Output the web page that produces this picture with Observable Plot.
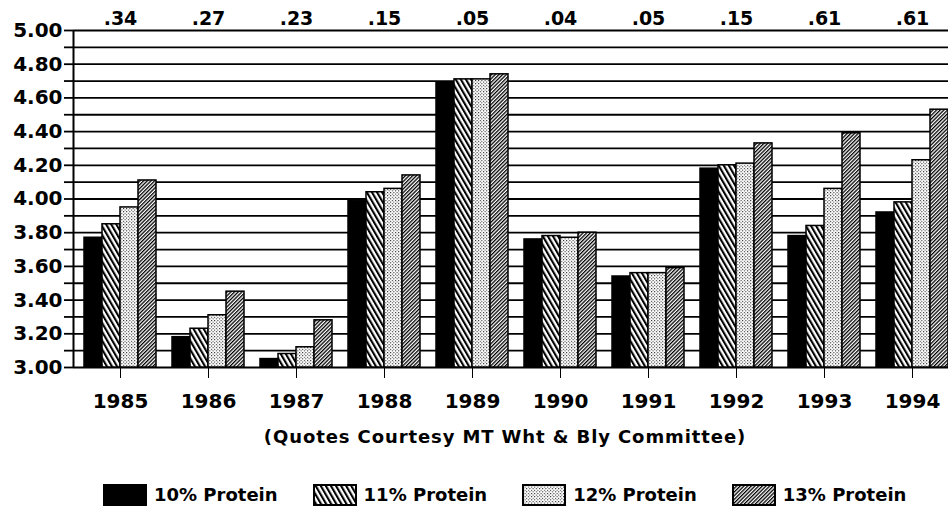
<!DOCTYPE html>
<html>
<head>
<meta charset="utf-8">
<script src="https://cdn.jsdelivr.net/npm/d3@7"></script>
<script src="https://cdn.jsdelivr.net/npm/@observablehq/plot@0.6"></script>
<style>
  body { margin: 0; background: #fff; }
  #chart { width: 948px; height: 420px; position: relative; }
  #chart svg { display: block; position: absolute; left: 0; top: 0; }
  .sub { font: bold 18px "DejaVu Sans", sans-serif; color: #000; text-align: center;
         padding-left: 62px; width: 886px; margin-top: 7px; line-height: 20px; letter-spacing: 0.9px; }
  #legend { margin-top: 31px; padding-left: 104px; }
  #legend .lg-swatches { font: bold 18px "DejaVu Sans", sans-serif !important; color: #000; margin: 0 !important; display: flex; }
  #legend .lg-swatch { margin-right: 36px !important; display: inline-flex; align-items: center; line-height: 22px; }
  #legend .lg-swatch > svg { margin-right: 8px !important; }
  #legend .lg-swatch rect { stroke: #000; stroke-width: 2px; }
</style>
</head>
<body>
<div id="chart"></div>
<div class="sub" id="sub"></div>
<div id="legend"></div>
<script>
// ---- data ----
const years = ["1985", "1986", "1987", "1988", "1989", "1990", "1991", "1992", "1993", "1994"];
const proteins = ["10% Protein", "11% Protein", "12% Protein", "13% Protein"];
const protein10 = [3.77, 3.18, 3.05, 3.99, 4.69, 3.76, 3.54, 4.18, 3.78, 3.92];
const protein11 = [3.85, 3.23, 3.08, 4.04, 4.71, 3.78, 3.56, 4.20, 3.84, 3.98];
const protein12 = [3.95, 3.31, 3.12, 4.06, 4.71, 3.77, 3.56, 4.21, 4.06, 4.23];
const protein13 = [4.11, 3.45, 3.28, 4.14, 4.74, 3.80, 3.59, 4.33, 4.39, 4.53];
const spreads = [".34", ".27", ".23", ".15", ".05", ".04", ".05", ".15", ".61", ".61"];
const yMin = 3.0, yMax = 5.0;
const yTicks = d3.range(30, 51).map(d => d / 10);
const subtitle = "(Quotes Courtesy MT Wht & Bly Committee)";
const fills = ["black", "url(#pat11)", "url(#pat12)", "url(#pat13)"];

const series = [protein10, protein11, protein12, protein13];
const data = years.flatMap((yr, i) => series.map((s, j) => ({year: yr, protein: proteins[j], price: s[i]})));
const spreadData = years.map((yr, i) => ({year: yr, label: spreads[i]}));

const font = "DejaVu Sans, sans-serif";
const frame = {width: 948, height: 420, marginLeft: 73, marginRight: 0, marginTop: 30, marginBottom: 53};

// background layer: grid lines, y axis
const back = Plot.plot({
  ...frame,
  style: {fontFamily: font, fontWeight: "bold", fontSize: "20px", color: "black", background: "white"},
  x: {domain: [0, 1], axis: null},
  y: {domain: [yMin, yMax]},
  marks: [
    Plot.ruleY(yTicks, {stroke: "black", strokeWidth: 1.8}),
    Plot.ruleX([0], {stroke: "black", strokeWidth: 2}),
    Plot.axisY(yTicks, {tickSize: 9, tickPadding: 2, strokeWidth: 1.8, fontSize: 20,
      tickFormat: d => (Math.round(d * 10) % 2 === 0 ? d.toFixed(2) : ""), label: null})
  ]
});

// foreground layer: grouped bars
const chart = Plot.plot({
  ...frame,
  style: {fontFamily: font, fontWeight: "bold", fontSize: "20px", color: "black", background: "transparent", overflow: "visible"},
  fx: {domain: years, paddingInner: 0.185, paddingOuter: 0.045, align: 1, label: null, axis: "bottom", tickSize: 11, tickPadding: 15},
  x: {domain: proteins, padding: 0, axis: null},
  y: {domain: [yMin, yMax], axis: null},
  color: {domain: proteins, range: fills},
  marks: [
    Plot.barY(data, {fx: "year", x: "protein", y1: yMin, y2: "price", fill: "protein", stroke: "black", strokeWidth: 1.5}),
    Plot.text(spreadData, {fx: "year", text: "label", y: yMax, dy: -12, fontSize: 19, fontWeight: "bold"})
  ]
});

const defs = `
<pattern id="pat11" width="4.4" height="4.4" patternUnits="userSpaceOnUse" patternTransform="rotate(-30)">
  <rect width="4.4" height="4.4" fill="white"/><rect width="2.1" height="4.4" fill="black"/>
</pattern>
<pattern id="pat12" width="3.2" height="3.2" patternUnits="userSpaceOnUse">
  <rect width="3.2" height="3.2" fill="white"/><rect x="0" y="0" width="1" height="1" fill="#111"/><rect x="1.6" y="1.6" width="1" height="1" fill="#111"/>
</pattern>
<pattern id="pat13" width="2.6" height="2.6" patternUnits="userSpaceOnUse" patternTransform="rotate(45)">
  <rect width="2.6" height="2.6" fill="white"/><rect width="1.3" height="2.6" fill="black"/>
</pattern>`;
d3.select(chart).insert("defs", ":first-child").html(defs);

const holder = document.getElementById("chart");
holder.appendChild(back);
holder.appendChild(chart);

document.getElementById("sub").textContent = subtitle;

const legend = Plot.legend({
  color: {type: "ordinal", domain: proteins, range: fills},
  legend: "swatches",
  swatchWidth: 42,
  swatchHeight: 20,
  className: "lg"
});
document.getElementById("legend").appendChild(legend);
</script>
</body>
</html>
